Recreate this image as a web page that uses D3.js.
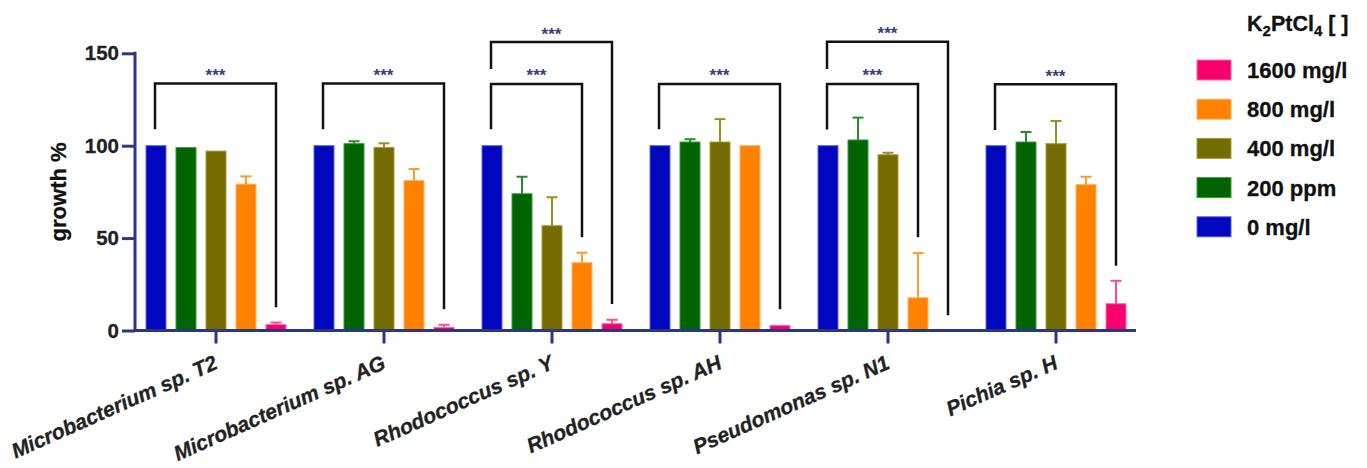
<!DOCTYPE html>
<html>
<head>
<meta charset="utf-8">
<script src="https://cdn.jsdelivr.net/npm/d3@7"></script>
<style>
  html, body { margin: 0; padding: 0; background: #fff; }
  svg { display: block; font-family: "Liberation Sans", Arial, Helvetica, sans-serif; }
</style>
</head>
<body>
<svg id="chart" width="1367" height="468"></svg>
<script>
// ---------- data ----------
const groups = ["Microbacterium sp. T2", "Microbacterium sp. AG", "Rhodococcus sp. Y",
                "Rhodococcus sp. AH", "Pseudomonas sp. N1", "Pichia sp. H"];
const seriesNames = ["0 mg/l", "200 ppm", "400 mg/l", "800 mg/l", "1600 mg/l"];
const growth0    = [100, 100, 100, 100, 100, 100];
const err0       = [0, 0, 0, 0, 0, 0];
const growth200  = [99, 101.1, 74, 102, 103.1, 102];
const err200     = [0, 1.3, 9.2, 1.5, 12.1, 5.4];
const growth400  = [97.1, 99.1, 56.7, 102, 95.1, 101.1];
const err400     = [0, 2.2, 15.4, 12.4, 1.1, 12.3];
const growth800  = [79.2, 81.1, 36.7, 100, 17.7, 78.9];
const err800     = [4.2, 6.3, 5.4, 0, 24.2, 4.3];
const growth1600 = [3.2, 1.7, 3.7, 2.8, 0, 14.5];
const err1600    = [1.1, 1.4, 2.1, 0, 0, 12.4];
const yTicks = [0, 50, 100, 150];
// significance brackets (values in growth % units)
const bracketGroup = [0, 1, 2, 2, 3, 4, 4, 5];
const bracketFrom  = [0, 0, 0, 0, 0, 0, 0, 0];
const bracketTo    = [4, 4, 3, 4, 4, 3, 4, 4];
const bracketTop   = [133.6, 133.6, 133.4, 156.1, 133.4, 133.4, 156.3, 133.2];
const bracketLeft  = [108.9, 108.9, 108.9, 141.5, 108.9, 108.8, 141.5, 108.5];
const bracketRight = [12.6, 11.5, 50.4, 14.3, 11.5, 50.4, 8.2, 35];
const bracketLabel = ["***", "***", "***", "***", "***", "***", "***", "***"];

const values = [growth0, growth200, growth400, growth800, growth1600];
const errors = [err0, err200, err400, err800, err1600];
const colors = ["#0008bf", "#006400", "#756c00", "#ff8200", "#f5006d"];
const strokes = ["#5a5ee0", "#3f9a3f", "#a89c3a", "#ffb060", "#ff6aa8"];
const errColors = ["#3a40d8", "#2a8a2a", "#9a8e20", "#ff9a30", "#ff4a94"];

// ---------- layout ----------
const svg = d3.select("#chart");
const axisColor = "#2c3784";
const x0 = d3.scaleBand().domain(groups).range([132, 1140]).padding(0);
const x1 = d3.scaleBand().domain(seriesNames).range([-75, 75]).paddingInner(1/3).paddingOuter(1/6);
const y = d3.scaleLinear().domain([0, 150]).range([330.5, 53.3]);
const xAxisLeft = 135, xAxisRight = 1136;

const cx = (g, s) => x0(groups[g]) + x0.bandwidth() / 2 + x1(seriesNames[s]) + x1.bandwidth() / 2;

// bars
const barData = [];
values.forEach((arr, s) => arr.forEach((v, g) => barData.push({g, s, v, e: errors[s][g]})));

const barG = svg.append("g");
barG.selectAll("rect").data(barData.filter(d => d.v > 0)).join("rect")
  .attr("x", d => cx(d.g, d.s) - x1.bandwidth() / 2)
  .attr("width", x1.bandwidth())
  .attr("y", d => y(d.v))
  .attr("height", d => y(0) - y(d.v))
  .attr("fill", d => colors[d.s])
  .attr("stroke", d => strokes[d.s])
  .attr("stroke-width", 1);

// error bars (upper only)
const errG = svg.append("g");
barData.filter(d => d.e > 0).forEach(d => {
  const xc = cx(d.g, d.s);
  errG.append("line").attr("x1", xc).attr("x2", xc)
    .attr("y1", y(d.v)).attr("y2", y(d.v + d.e))
    .attr("stroke", errColors[d.s]).attr("stroke-width", 2);
  errG.append("line").attr("x1", xc - 5.5).attr("x2", xc + 5.5)
    .attr("y1", y(d.v + d.e)).attr("y2", y(d.v + d.e))
    .attr("stroke", errColors[d.s]).attr("stroke-width", 2);
});

// axes
const yAxis = d3.axisLeft(y).tickValues(yTicks).tickSize(13).tickPadding(3);
const yg = svg.append("g").attr("transform", `translate(${xAxisLeft},0)`).call(yAxis);
yg.select(".domain").remove();
yg.selectAll(".tick line").attr("stroke", axisColor).attr("stroke-width", 3);
yg.selectAll(".tick text").attr("fill", "#222").attr("font-size", 20.5).attr("font-weight", "bold")
  .attr("stroke", "#222").attr("stroke-width", 0.3)
  .attr("font-family", "'Liberation Sans', Arial, sans-serif");
svg.append("line").attr("x1", xAxisLeft).attr("x2", xAxisLeft)
  .attr("y1", y(150) - 1.5).attr("y2", y(0) + 1.5)
  .attr("stroke", axisColor).attr("stroke-width", 3);

const xAxis = d3.axisBottom(x0).tickSize(13).tickFormat("");
const xg = svg.append("g").attr("transform", `translate(0,${y(0)})`).call(xAxis);
xg.select(".domain").remove();
xg.selectAll(".tick line").attr("stroke", axisColor).attr("stroke-width", 3);
svg.append("line").attr("x1", xAxisLeft - 1.5).attr("x2", xAxisRight)
  .attr("y1", y(0)).attr("y2", y(0))
  .attr("stroke", axisColor).attr("stroke-width", 3);

// x labels
svg.append("g").selectAll("text").data(groups).join("text")
  .attr("transform", d => `translate(${x0(d) + x0.bandwidth() / 2 + 3},368) rotate(-24)`)
  .attr("text-anchor", "end")
  .attr("font-size", 21).attr("font-weight", "bold").attr("font-style", "italic")
  .attr("fill", "#222").attr("stroke", "#222").attr("stroke-width", 0.3)
  .text(d => d);

// y title
svg.append("text")
  .attr("transform", `translate(66,${(y(0) + y(150)) / 2}) rotate(-90)`)
  .attr("text-anchor", "middle")
  .attr("font-size", 22).attr("font-weight", "bold").attr("fill", "#111")
  .attr("stroke", "#111").attr("stroke-width", 0.3)
  .text("growth %");

// significance brackets
const brG = svg.append("g");
bracketGroup.forEach((g, i) => {
  const xl = cx(g, bracketFrom[i]) - 1, xr = cx(g, bracketTo[i]);
  const yt = y(bracketTop[i]);
  brG.append("path")
    .attr("d", `M${xl},${y(bracketLeft[i])}V${yt}H${xr}V${y(bracketRight[i])}`)
    .attr("fill", "none").attr("stroke", "#111").attr("stroke-width", 2.5);
  brG.append("text").attr("x", (xl + xr) / 2).attr("y", yt - 2.5)
    .attr("text-anchor", "middle").attr("font-size", 17).attr("font-weight", "bold")
    .attr("fill", "#3a3f7c").text(bracketLabel[i]);
});

// legend
const lg = svg.append("g");
const title = lg.append("text").attr("x", 1247).attr("y", 31)
  .attr("font-size", 21.5).attr("font-weight", "bold").attr("fill", "#111")
  .attr("stroke", "#111").attr("stroke-width", 0.3);
title.append("tspan").text("K");
title.append("tspan").attr("dy", 5).attr("font-size", 15).text("2");
title.append("tspan").attr("dy", -5).text("PtCl");
title.append("tspan").attr("dy", 5).attr("font-size", 15).text("4");
title.append("tspan").attr("dy", -5).text(" [ ]");

const legendOrder = [4, 3, 2, 1, 0];
legendOrder.forEach((s, i) => {
  const yc = 70 + i * 39.2;
  lg.append("rect").attr("x", 1197).attr("y", yc - 10).attr("width", 34).attr("height", 20)
    .attr("fill", colors[s]).attr("stroke", strokes[s]).attr("stroke-width", 1);
  lg.append("text").attr("x", 1247).attr("y", yc + 8)
    .attr("font-size", 22).attr("font-weight", "bold").attr("fill", "#111")
    .attr("stroke", "#111").attr("stroke-width", 0.3)
    .text(seriesNames[s]);
});
</script>
</body>
</html>
